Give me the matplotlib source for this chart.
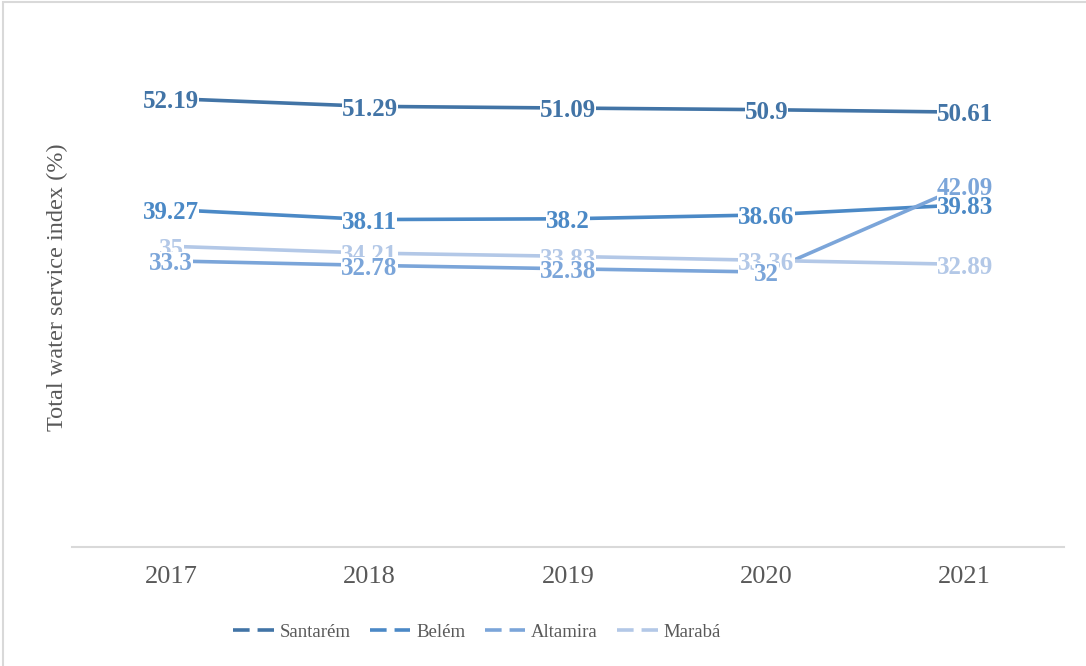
import matplotlib.pyplot as plt
from matplotlib.lines import Line2D
from matplotlib.patches import Rectangle

years = ['2017', '2018', '2019', '2020', '2021']
santarem = [52.19, 51.29, 51.09, 50.9, 50.61]
belem = [39.27, 38.11, 38.2, 38.66, 39.83]
altamira = [33.3, 32.78, 32.38, 32, 42.09]
maraba = [35, 34.21, 33.83, 33.36, 32.89]

names = ['Santarém', 'Belém', 'Altamira', 'Marabá']
colors = ['#4274A6', '#4B89C6', '#7BA5D9', '#B3C8E7']

plt.rcParams['font.family'] = ['Liberation Serif', 'DejaVu Serif']

fig = plt.figure(figsize=(10.86, 6.66), dpi=100)
ax = fig.add_axes([72 / 1086, 119 / 666, 992 / 1086, 515.5 / 666])

# rahmen um das ganze bild
fig.patches.append(Rectangle((3 / 1086, -0.1), 1.2, 0.1 + 664 / 666,
                             transform=fig.transFigure, fill=False,
                             edgecolor='#D9D9D9', linewidth=1.5))

x = list(range(len(years)))
series = [santarem, belem, altamira, maraba]
for vals, c in zip(series, colors):
    ax.plot(x, vals, color=c, linewidth=2.6, solid_capstyle='butt', zorder=2)

# datenbeschriftung mittig auf dem punkt, weisser hintergrund wie in excel
# (letzte reihe zuerst, damit santarem oben liegt)
z = 3
for vals, c in reversed(list(zip(series, colors))):
    for xi, v in zip(x, vals):
        ax.annotate(f'{v:g}', (xi, v), xytext=(0, -2), textcoords='offset points',
                    color=c, fontsize=18, fontweight='bold',
                    ha='center', va='center', zorder=z,
                    bbox=dict(facecolor='white', edgecolor='none', pad=0))
    z += 1

ax.set_xlim(-0.5, 4.5)
ax.set_ylim(0, 60)
ax.set_xticks(x)
ax.set_xticklabels(years, fontsize=19, color='#595959')
ax.tick_params(axis='x', length=0, pad=14)
ax.set_yticks([])
for s in ['top', 'right', 'left']:
    ax.spines[s].set_visible(False)
ax.spines['bottom'].set_color('#D9D9D9')
ax.spines['bottom'].set_linewidth(1.5)

fig.text(57 / 1086, 1 - 287 / 666, 'Total water service index (%)', rotation=90,
         ha='center', va='center', fontsize=17.5, color='#595959')

handles = [Line2D([0], [0], color=c, linewidth=2.6, dashes=(4.6, 2.2))
           for c in colors]
leg = fig.legend(handles, names, loc='center', bbox_to_anchor=(477 / 1086, 1 - 632 / 666),
                 ncol=4, frameon=False, fontsize=13.5, handlelength=2.15,
                 handletextpad=0.3, columnspacing=1.05)
for t in leg.get_texts():
    t.set_color('#595959')

plt.savefig('out.png', dpi=100)
